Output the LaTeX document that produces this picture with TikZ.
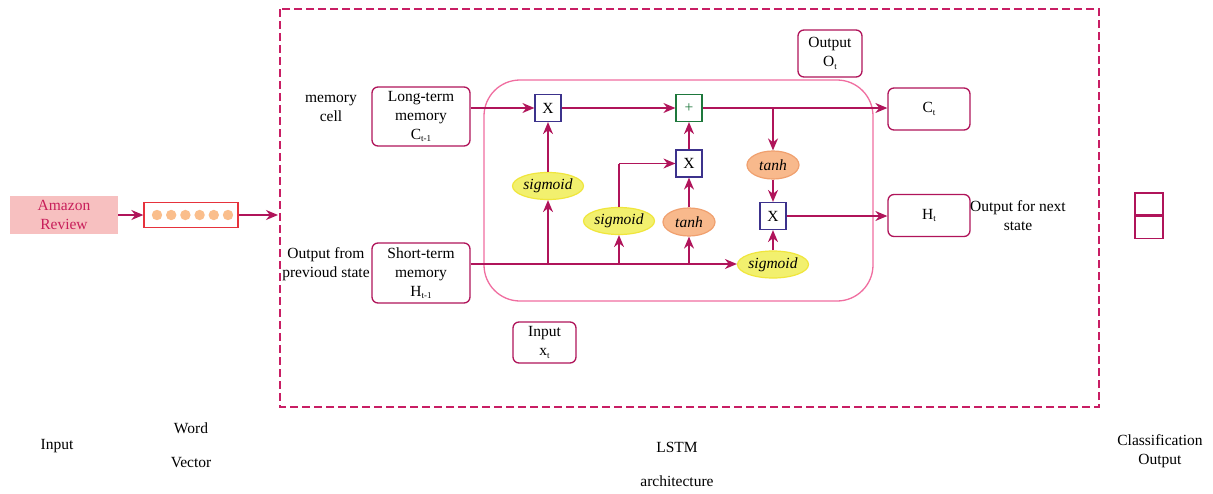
\documentclass[tikz,border=0pt]{standalone}
\usepackage{fontspec}
\setmainfont{Liberation Serif}
\usetikzlibrary{arrows.meta,shapes.geometric,positioning}
\definecolor{ln}{RGB}{176,20,90}
\definecolor{bigbox}{RGB}{240,110,160}
\definecolor{dash}{RGB}{200,30,100}
\definecolor{amfill}{RGB}{247,192,192}
\definecolor{amtext}{RGB}{200,30,90}
\definecolor{wvred}{RGB}{230,50,60}
\definecolor{dot}{RGB}{250,190,140}
\definecolor{xblue}{RGB}{60,50,140}
\definecolor{pgreen}{RGB}{30,120,60}
\definecolor{sigfill}{RGB}{242,240,110}
\definecolor{sigdraw}{RGB}{240,230,60}
\definecolor{tanfill}{RGB}{248,185,140}
\definecolor{tandraw}{RGB}{240,160,110}
\newcommand{\sbs}[1]{\raisebox{-0.35ex}{\fontsize{9}{9}\selectfont #1}}
\tikzset{
  every node/.style={font=\fontsize{15.5}{19}\selectfont, align=center, inner sep=0pt},
  conn/.style={draw=ln, line width=1.4pt, -{Stealth[length=12pt,width=10pt]}},
  plain/.style={draw=ln, line width=1.4pt},
  membox/.style={draw=ln, line width=1.3pt, rounded corners=6pt, minimum width=98pt},
  opbox/.style={draw=xblue, line width=1.2pt, minimum width=26pt, minimum height=27pt},
  sig/.style={ellipse, draw=sigdraw, fill=sigfill, line width=1.2pt, minimum width=71pt, minimum height=27pt, font=\fontsize{15.5}{19}\selectfont\itshape},
  tnh/.style={ellipse, draw=tandraw, fill=tanfill, line width=1.2pt, minimum width=52pt, minimum height=28pt, font=\fontsize{15.5}{19}\selectfont\itshape},
}
\begin{document}
\begin{tikzpicture}[x=1pt,y=-1pt]
\useasboundingbox (0,0) rectangle (1213,493);
\fill[white] (0,0) rectangle (1213,493);
% dashed frame
\draw[draw=dash, line width=1.3pt, dash pattern=on 8pt off 4pt] (280,9) rectangle (1099,407);
% big rounded box
\draw[draw=bigbox, line width=1.3pt, rounded corners=36pt] (484,80) rectangle (873,301);
% input
\node[fill=amfill, minimum width=108pt, minimum height=38pt, text=amtext] (amz) at (64,215) {Amazon\\Review};
\node[draw=wvred, line width=1.3pt, minimum width=94pt, minimum height=25pt] (wv) at (191,215) {};
\foreach \i in {0,...,5} \fill[dot] (157+\i*14.2,215) circle (5.2pt);
\coordinate (lstmin) at (278,215);
\draw[conn] (amz.east) -- (wv.west);
\draw[conn] (wv.east) -- (lstmin);
% memory boxes
\node[membox, minimum height=59pt] (lt) at (421,116.5) {Long-term\\memory\\C\sbs{t-1}};
\node[membox, minimum height=60pt] (st) at (421,273) {Short-term\\memory\\H\sbs{t-1}};
\node (memlbl) at (331,108) {memory\\cell};
\node (outprev) at (326,264) {Output from\\previoud state};
% operators
\node[opbox] (x1) at (548,108) {X};
\node[opbox, draw=pgreen, text=pgreen] (plus) at (689,108) {+};
\node[opbox] (x2) at (689,163.5) {X};
\node[opbox] (x3) at (773,216) {X};
\node[sig] (s1) at (548,186) {sigmoid};
\node[sig] (s2) at (619,221) {sigmoid};
\node[tnh] (t1) at (689,222) {tanh};
\node[tnh] (t2) at (773,165) {tanh};
\node[sig] (s3) at (773,264.5) {sigmoid};
% outputs
\node[membox, minimum width=82pt, minimum height=42pt] (ct) at (929,109) {C\sbs{t}};
\node[membox, minimum width=82pt, minimum height=42pt] (ht) at (929,215.5) {H\sbs{t}};
\node (nextlbl) at (1018,216) {Output for next\\state};
\node[membox, minimum width=64pt, minimum height=47pt] (ot) at (830,53.5) {Output\\O\sbs{t}};
\node[membox, minimum width=63pt, minimum height=41pt] (xt) at (544.5,342.5) {Input\\x\sbs{t}};
% classification icon
\node[draw=ln, line width=1.4pt, minimum width=28pt, minimum height=22pt] (c1) at (1149,204) {};
\node[draw=ln, line width=1.4pt, minimum width=28pt, minimum height=22pt, anchor=north] (c2) at (c1.south) {};
% connectors
\coordinate (j1) at (773,108);
\coordinate (b1) at (548,264);
\coordinate (b2) at (619,264);
\coordinate (b3) at (689,264);
\coordinate (k2) at (619,163.5);
\draw[conn] (lt.east|-x1) -- (x1.west);
\draw[conn] (x1.east) -- (plus.west);
\draw[conn] (plus.east) -- (ct.west|-plus);
\draw[conn] (j1) -- (t2.north);
\draw[conn] (t2.south) -- (x3.north);
\draw[conn] (x3.east) -- (ht.west|-x3);
\draw[conn] (s3.north) -- (x3.south);
\draw[conn] (st.east|-b1) -- (s3.west|-b1);
\draw[conn] (b1) -- (s1.south);
\draw[conn] (s1.north) -- (x1.south);
\draw[conn] (b2) -- (s2.south);
\draw[plain] (s2.north) -- (k2);
\draw[conn] (k2) -- (x2.west);
\draw[conn] (b3) -- (t1.south);
\draw[conn] (t1.north) -- (x2.south);
\draw[conn] (x2.north) -- (plus.south);
% bottom labels
\node (l1) at (57,446) {Input};
\node (l2) at (191,428) {Word};
\node (l3) at (191,463) {Vector};
\node (l4) at (677,447) {LSTM};
\node (l5) at (677,481) {architecture};
\node (l6) at (1160,451) {Classification\\Output};
\end{tikzpicture}
\end{document}
